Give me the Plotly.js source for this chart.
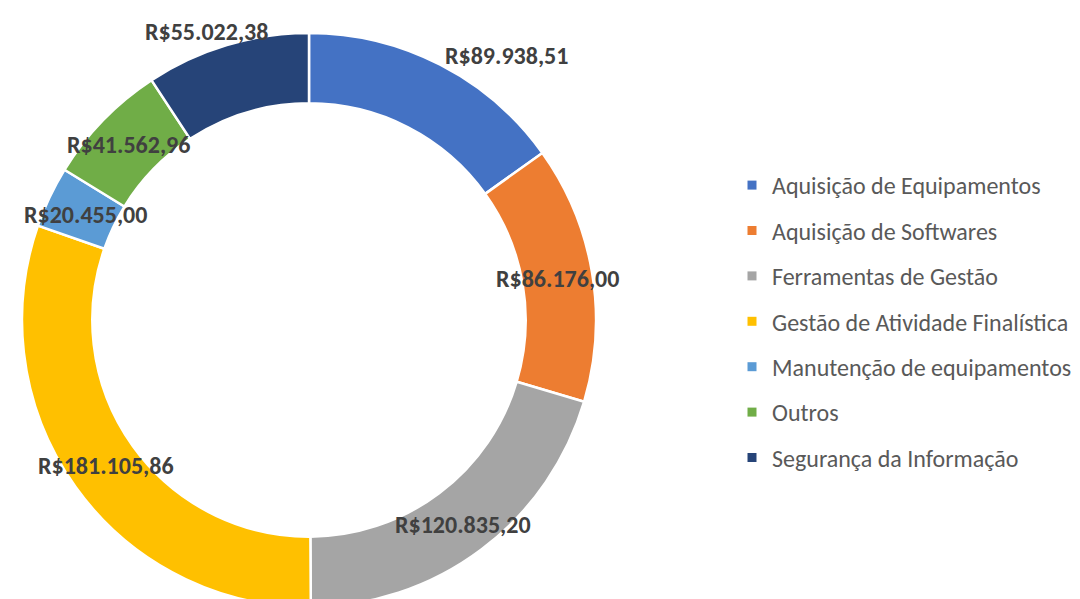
<!DOCTYPE html>
<html><head><meta charset="utf-8">
<script src="https://cdn.plot.ly/plotly-3.0.1.min.js"></script>
<style>html,body{margin:0;padding:0;overflow:hidden;background:#fff}</style>
</head><body><div id="chart"></div>
<script>
const categories = ["Aquisição de Equipamentos","Aquisição de Softwares","Ferramentas de Gestão","Gestão de Atividade Finalística","Manutenção de equipamentos","Outros","Segurança da Informação"];
const values = [89938.51, 86176.00, 120835.20, 181105.86, 20455.00, 41562.96, 55022.38];
const labelsText = ["R$89.938,51","R$86.176,00","R$120.835,20","R$181.105,86","R$20.455,00","R$41.562,96","R$55.022,38"];
const colors = ["#4472C4","#ED7D31","#A5A5A5","#FFC000","#5B9BD5","#70AD47","#264478"];

const W = 1080, H = 620;
const CX = 309, CY = 320, R = 287;
// label placement tweaks (style): radius in px and angle offset in degrees
const labelR = [330, 252, 256, 250, 247, 252, 306];
const labelDA = [9.5, 0, 0, 0, 0, 0, -3];

const total = values.reduce((a,b)=>a+b,0);
let cum = 0;
const annotations = values.map((v,i)=>{
  const mid = (cum + v/2)/total*360 + labelDA[i];
  cum += v;
  const a = mid*Math.PI/180;
  const px = CX + labelR[i]*Math.sin(a);
  const py = CY - labelR[i]*Math.cos(a);
  return {x: px/W, y: 1-py/H, xref:'paper', yref:'paper', text: labelsText[i], showarrow:false,
    xanchor:'center', yanchor:'middle',
    font:{family:'Calibri, Carlito, Lato, sans-serif', size:24, color:'#404040', weight:'bold'}};
});

const pie = {
  type:'pie', values: values, labels: categories, sort:false, direction:'clockwise', rotation:0,
  hole: 0.755, textinfo:'none', showlegend:false,
  marker:{colors: colors, line:{color:'#ffffff', width:2.5}},
  domain:{x:[(CX-R)/W,(CX+R)/W], y:[1-(CY+R)/H, 1-(CY-R)/H]}
};
const legendTraces = categories.map((c,i)=>({
  type:'scatter', mode:'markers', x:[null], y:[null], name:c, legendgroup:'g'+i,
  marker:{symbol:'square', size:9, color:colors[i]}, hoverinfo:'skip'
}));

const layout = {
  width: W, height: H, margin:{l:0,r:0,t:0,b:0},
  paper_bgcolor:'#fff', plot_bgcolor:'#fff',
  xaxis:{visible:false}, yaxis:{visible:false},
  showlegend:true,
  legend:{x:732/W, y:1-163/H, xanchor:'left', yanchor:'top', traceorder:'grouped', tracegroupgap:11.2,
    font:{family:'Calibri, Carlito, Lato, sans-serif', size:24, color:'#595959'},
    itemwidth:30, bgcolor:'rgba(0,0,0,0)'},
  annotations: annotations
};
Plotly.newPlot('chart', [pie].concat(legendTraces), layout, {displayModeBar:false, staticPlot:true});
</script></body></html>
